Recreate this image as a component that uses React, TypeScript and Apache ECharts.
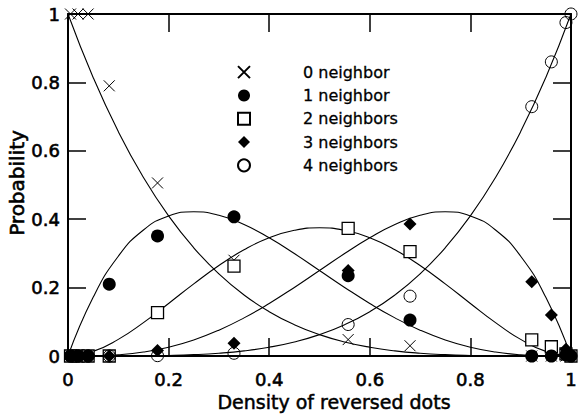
import React, { useEffect, useRef } from "react";
import * as echarts from "echarts";

// Densities at which the neighbour counts were measured
const pointX = [0.005, 0.02, 0.04, 0.082, 0.178, 0.33, 0.557, 0.68, 0.922, 0.961, 0.99, 1.0];

// Measured probabilities for each neighbour count
const zeroNeighbor = [1, 1, 1, 0.79, 0.506, 0.28, 0.048, 0.03, 0, 0, 0, 0];
const oneNeighbor = [0, 0, 0, 0.21, 0.351, 0.407, 0.235, 0.105, 0, 0, 0.003, 0];
const twoNeighbors = [0, 0, 0, 0, 0.127, 0.263, 0.373, 0.305, 0.047, 0.027, 0.006, 0];
const threeNeighbors = [0, 0, 0, 0, 0.016, 0.037, 0.25, 0.386, 0.217, 0.12, 0.02, 0];
const fourNeighbors = [0, 0, 0, 0, 0.001, 0.008, 0.092, 0.175, 0.729, 0.86, 0.975, 1];

// Expected curves, sampled every 0.05 along the density axis
const curveX = [0, 0.05, 0.1, 0.15, 0.2, 0.25, 0.3, 0.35, 0.4, 0.45, 0.5, 0.55, 0.6, 0.65, 0.7, 0.75, 0.8, 0.85, 0.9, 0.95, 1];
const curve0 = [1, 0.8145, 0.6561, 0.522, 0.4096, 0.3164, 0.2401, 0.1785, 0.1296, 0.0915, 0.0625, 0.041, 0.0256, 0.015, 0.0081, 0.0039, 0.0016, 0.0005, 0.0001, 0, 0];
const curve1 = [0, 0.1715, 0.2916, 0.3685, 0.4096, 0.4219, 0.4116, 0.3845, 0.3456, 0.2995, 0.25, 0.2005, 0.1536, 0.1115, 0.0756, 0.0469, 0.0256, 0.0115, 0.0036, 0.0005, 0];
const curve2 = [0, 0.0135, 0.0486, 0.0975, 0.1536, 0.2109, 0.2646, 0.3105, 0.3456, 0.3675, 0.375, 0.3675, 0.3456, 0.3105, 0.2646, 0.2109, 0.1536, 0.0975, 0.0486, 0.0135, 0];
const curve3 = [0, 0.0005, 0.0036, 0.0115, 0.0256, 0.0469, 0.0756, 0.1115, 0.1536, 0.2005, 0.25, 0.2995, 0.3456, 0.3845, 0.4116, 0.4219, 0.4096, 0.3685, 0.2916, 0.1715, 0];
const curve4 = [0, 0, 0.0001, 0.0005, 0.0016, 0.0039, 0.0081, 0.015, 0.0256, 0.041, 0.0625, 0.0915, 0.1296, 0.1785, 0.2401, 0.3164, 0.4096, 0.522, 0.6561, 0.8145, 1];

const seriesNames = ["0 neighbor", "1 neighbor", "2 neighbors", "3 neighbors", "4 neighbors"];

const FONT = "DejaVu Sans";
const pair = (xs: number[], ys: number[]) => xs.map((x, i) => [x, ys[i]]);
const fmt = (v: number) => String(Number(v.toFixed(1)));

// a thin outline on the glyphs gives the heavier print weight of the labels
const heavyText = { textBorderColor: "#000", textBorderWidth: 0.6 };

export default function App() {
  const ref = useRef<HTMLDivElement>(null);

  useEffect(() => {
    if (!ref.current) return;
    const chart = echarts.init(ref.current, null, { renderer: "svg" });

    const axisCommon = {
      type: "value" as const,
      min: 0,
      max: 1,
      interval: 0.2,
      splitLine: { show: false },
      axisLine: { show: true, onZero: false, lineStyle: { color: "#000", width: 2 } },
      axisTick: { show: true, inside: true, length: 18, lineStyle: { color: "#000", width: 1.5 } },
    };

    const tickLabel = {
      formatter: fmt,
      fontFamily: FONT,
      fontSize: 18,
      color: "#000",
      ...heavyText,
    };

    const curveStyle = (name: string, ys: number[]) => ({
      type: "line" as const,
      name,
      data: pair(curveX, ys),
      smooth: true,
      symbol: "none",
      lineStyle: { color: "#000", width: 1.1 },
      z: 1,
      silent: true,
    });

    const pointStyle = (
      name: string,
      ys: number[],
      symbol: string,
      size: number,
      itemStyle: any,
      z: number
    ) => ({
      type: "scatter" as const,
      name,
      data: pair(pointX, ys),
      symbol,
      symbolSize: size,
      itemStyle: { opacity: 1, ...itemStyle },
      z,
      clip: false,
    });

    chart.setOption({
      animation: false,
      backgroundColor: "#fff",
      grid: { left: 68, right: 3, top: 14, bottom: 64 },
      legend: {
        data: seriesNames,
        orient: "vertical",
        left: 237,
        top: 64,
        padding: 0,
        itemWidth: 12,
        itemHeight: 12,
        itemGap: 7,
        selectedMode: false,
        textStyle: {
          fontFamily: FONT,
          fontSize: 16,
          color: "#000",
          lineHeight: 16,
          padding: [0, 0, 0, 48],
          textBorderColor: "#000",
          textBorderWidth: 0.3,
        },
      },
      xAxis: [
        {
          ...axisCommon,
          position: "bottom",
          axisLabel: { ...tickLabel, margin: 14 },
        },
        {
          ...axisCommon,
          position: "top",
          axisLabel: { show: false },
        },
      ],
      yAxis: [
        {
          ...axisCommon,
          position: "left",
          axisLabel: { ...tickLabel, margin: 8 },
        },
        {
          ...axisCommon,
          position: "right",
          axisLabel: { show: false },
        },
      ],
      graphic: [
        {
          type: "text",
          x: 334,
          y: 402,
          style: {
            text: "Density of reversed dots",
            fontFamily: FONT,
            fontSize: 19,
            fill: "#000",
            stroke: "#000",
            lineWidth: 0.5,
            align: "center",
            verticalAlign: "middle",
          },
        },
        {
          type: "text",
          x: 17,
          y: 183,
          rotation: Math.PI / 2,
          style: {
            text: "Probability",
            fontFamily: FONT,
            fontSize: 20,
            fill: "#000",
            stroke: "#000",
            lineWidth: 0.6,
            align: "center",
            verticalAlign: "middle",
          },
        },
      ],
      series: [
        curveStyle("curve0", curve0),
        curveStyle("curve1", curve1),
        curveStyle("curve2", curve2),
        curveStyle("curve3", curve3),
        curveStyle("curve4", curve4),
        pointStyle(seriesNames[0], zeroNeighbor, "path://M0,0L10,10M10,0L0,10", 11,
          { color: "transparent", borderColor: "#000", borderWidth: 1 }, 3),
        pointStyle(seriesNames[2], twoNeighbors, "rect", 12,
          { color: "#fff", borderColor: "#000", borderWidth: 1.3 }, 4),
        pointStyle(seriesNames[1], oneNeighbor, "circle", 13,
          { color: "#000", borderWidth: 0 }, 5),
        pointStyle(seriesNames[3], threeNeighbors, "diamond", 13,
          { color: "#000", borderWidth: 0 }, 6),
        pointStyle(seriesNames[4], fourNeighbors, "circle", 12,
          { color: "transparent", borderColor: "#000", borderWidth: 1 }, 7),
      ],
    });

    return () => chart.dispose();
  }, []);

  return <div ref={ref} style={{ width: 580, height: 420, position: "absolute", left: 0, top: 0 }} />;
}
